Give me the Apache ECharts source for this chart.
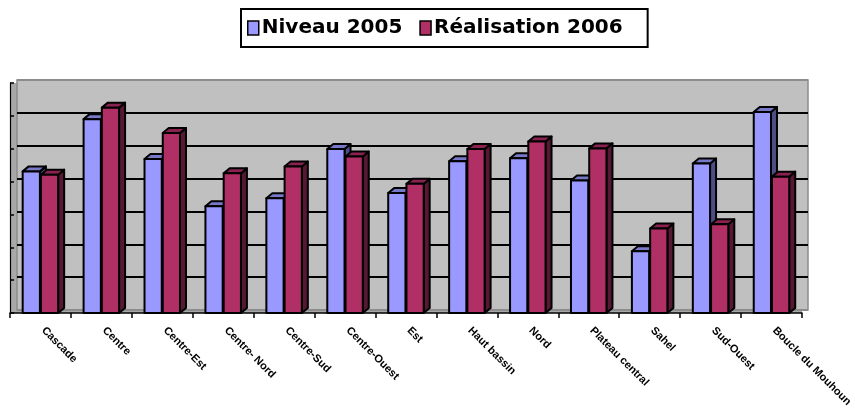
<!DOCTYPE html>
<html>
<head>
<meta charset="utf-8">
<script src="https://cdn.jsdelivr.net/npm/echarts@6/dist/echarts.min.js"></script>
<style>
	html, body { margin: 0; padding: 0; background: #fff; }
	#chart { width: 855px; height: 410px; }
</style>
</head>
<body>
<div id="chart"></div>
<script>
var categories = ["Cascade", "Centre", "Centre-Est", "Centre- Nord", "Centre-Sud", "Centre-Ouest", "Est",
	"Haut bassin", "Nord", "Plateau central", "Sahel", "Sud-Ouest", "Boucle du Mouhoun"];
var niveau2005 = [4.31, 5.90, 4.69, 3.25, 3.49, 4.99, 3.65, 4.62, 4.71, 4.03, 1.88, 4.55, 6.12];
var realisation2006 = [4.21, 6.25, 5.48, 4.25, 4.46, 4.76, 3.93, 4.99, 5.22, 5.01, 2.57, 2.70, 4.15];
var seriesNames = ["Niveau 2005", "Réalisation 2006"];

(function() {
	var myChart = echarts.init(document.getElementById("chart"));

	// front / top / side colours of each series
	var faces = [
		{ front: "#9999FF", top: "#7878C8", side: "#4E4E86" },
		{ front: "#B03065", top: "#8A2250", side: "#561833" }
	];
	var depthX = 6, depthY = 5;

	function toData(arr) {
		return arr.map(function(v, i) { return [i, v]; });
	}

	function renderBar(params, api) {
		var cat = api.value(0);
		var val = api.value(1);
		var base = api.coord([cat, 0]);
		var top = api.coord([cat, val]);
		var band = api.size([1, 0])[0];
		var w = band * 0.283;
		var x0 = base[0] - band / 2 + band * 0.208 + params.seriesIndex * (w + 1);
		var x1 = x0 + w;
		var yT = top[1], yB = base[1];
		var f = faces[params.seriesIndex];
		var stroke = { stroke: "#000", lineWidth: 2, lineJoin: "round" };
		return {
			type: "group",
			children: [
				{
					type: "polygon",
					shape: { points: [[x1, yT], [x1 + depthX, yT - depthY], [x1 + depthX, yB - depthY], [x1, yB]] },
					style: Object.assign({ fill: f.side }, stroke)
				},
				{
					type: "polygon",
					shape: { points: [[x0, yT], [x0 + depthX, yT - depthY], [x1 + depthX, yT - depthY], [x1, yT]] },
					style: Object.assign({ fill: f.top }, stroke)
				},
				{
					type: "rect",
					shape: { x: x0, y: yT, width: w, height: yB - yT },
					style: Object.assign({ fill: f.front }, stroke)
				}
			]
		};
	}

	var option = {
		animation: false,
		legend: {
			left: 241,
			top: 9,
			data: seriesNames,
			orient: "horizontal",
			borderColor: "#000",
			borderWidth: 2,
			padding: [9, 25, 9, 6],
			itemWidth: 11,
			itemHeight: 14,
			itemGap: 17,
			icon: "rect",
			itemStyle: { borderColor: "#000", borderWidth: 1.5 },
			textStyle: {
				fontFamily: "DejaVu Sans",
				fontWeight: "bold",
				fontSize: 20,
				color: "#000",
				padding: [0, 0, 0, -2]
			}
		},
		grid: [
			{ left: 10, right: 50, top: 83, bottom: 97, show: true, backgroundColor: "#A8A8A8", borderWidth: 0 },
			{ left: 17, right: 47, top: 80, bottom: 100, show: true, backgroundColor: "#C0C0C0", borderColor: "#8C8C8C", borderWidth: 1.5 }
		],
		xAxis: [
			{
				gridIndex: 0,
				type: "category",
				data: categories,
				boundaryGap: true,
				axisLine: { lineStyle: { color: "#000", width: 1.5 } },
				axisTick: { show: true, interval: 0, length: 5, lineStyle: { color: "#000", width: 1.5 } },
				axisLabel: {
					interval: 0,
					rotate: -45,
					margin: 13,
					padding: [0, 0, 0, 4],
					color: "#000",
					fontFamily: "Liberation Sans",
					fontWeight: "bold",
					fontSize: 11
				}
			},
			{
				gridIndex: 1,
				type: "category",
				data: categories,
				show: false
			}
		],
		yAxis: [
			{
				gridIndex: 0,
				type: "value",
				min: 0,
				max: 7,
				interval: 1,
				axisLine: { show: true, lineStyle: { color: "#000", width: 1.2 } },
				axisTick: { show: true, inside: true, length: 4, lineStyle: { color: "#000", width: 1.5 } },
				axisLabel: { show: false },
				splitLine: { show: false }
			},
			{
				gridIndex: 1,
				type: "value",
				min: 0,
				max: 7,
				interval: 1,
				axisLine: { show: false },
				axisTick: { show: false },
				axisLabel: { show: false },
				splitLine: {
					show: true,
					lineStyle: {
						color: ["#8C8C8C", "#000", "#000", "#000", "#000", "#000", "#000", "#8C8C8C"],
						width: 2
					}
				}
			}
		],
		series: [
			{
				name: seriesNames[0],
				type: "custom",
				xAxisIndex: 0,
				yAxisIndex: 0,
				renderItem: renderBar,
				itemStyle: { color: faces[0].front },
				encode: { x: 0, y: 1 },
				data: toData(niveau2005),
				z: 5
			},
			{
				name: seriesNames[1],
				type: "custom",
				xAxisIndex: 0,
				yAxisIndex: 0,
				renderItem: renderBar,
				itemStyle: { color: faces[1].front },
				encode: { x: 0, y: 1 },
				data: toData(realisation2006),
				z: 5
			}
		]
	};

	myChart.setOption(option);

	window.addEventListener("resize", function() {
		myChart.resize();
	});
})();
</script>
</body>
</html>
